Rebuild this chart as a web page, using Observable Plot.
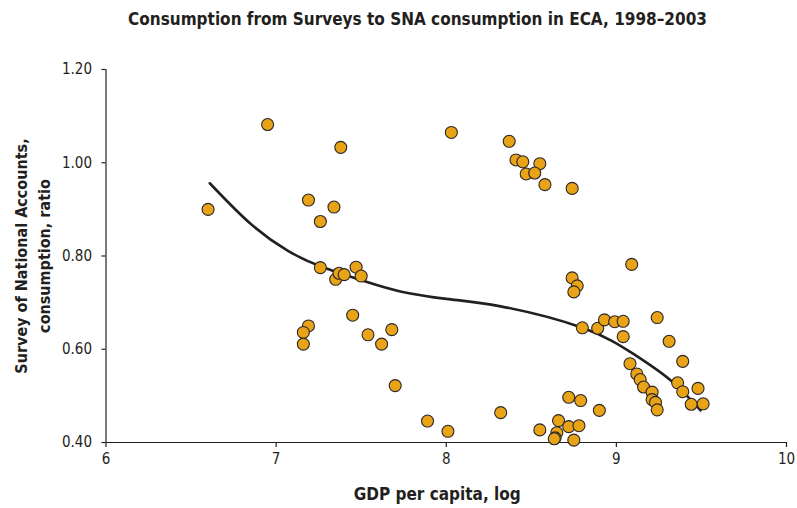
<!DOCTYPE html>
<html>
<head>
<meta charset="utf-8">
<script src="https://cdn.jsdelivr.net/npm/d3@7"></script>
<script src="https://cdn.jsdelivr.net/npm/@observablehq/plot@0.6"></script>
<style>
  html, body { margin: 0; padding: 0; background: #fff; }
  #chart { width: 797px; }
  #title {
    height: 36px; line-height: 38px; text-align: center;
    font-family: "Liberation Sans Narrow", "DejaVu Sans Condensed", sans-serif;
    font-weight: bold; font-size: 17px; color: #231f20;
    padding-left: 38px; box-sizing: border-box;
  }
  svg { display: block; }
</style>
</head>
<body>
<div id="chart">
  <div id="title">Consumption from Surveys to SNA consumption in ECA, 1998–2003</div>
</div>
<script>
// GDP per capita (log) for each country-year observation
const gdpLog = [
  6.60, 6.95, 7.38, 7.19, 7.34, 7.26, 7.26, 7.35, 7.37, 7.40, 7.47, 7.50,
  7.19, 7.16, 7.16, 7.45, 7.54, 7.62, 7.68, 7.70, 7.89, 8.01,
  8.03, 8.37, 8.41, 8.45, 8.55, 8.47, 8.52, 8.58, 8.74,
  9.09, 8.74, 8.77, 8.75,
  8.80, 8.89, 8.93, 8.99, 9.04, 9.04, 9.24, 9.31, 9.39,
  9.08, 9.12, 9.14, 9.16, 9.21, 9.21, 9.23, 9.24,
  9.36, 9.39, 9.48, 9.44, 9.51,
  8.32, 8.72, 8.79, 8.90, 8.55, 8.66, 8.72, 8.78, 8.65, 8.64, 8.635, 8.75
];
// Ratio of survey consumption to national accounts consumption
const ratio = [
  0.900, 1.082, 1.033, 0.920, 0.905, 0.874, 0.775, 0.750, 0.763, 0.760, 0.776, 0.757,
  0.650, 0.636, 0.611, 0.673, 0.631, 0.611, 0.642, 0.522, 0.446, 0.424,
  1.065, 1.046, 1.006, 1.002, 0.998, 0.976, 0.978, 0.953, 0.945,
  0.782, 0.753, 0.736, 0.723,
  0.646, 0.645, 0.663, 0.659, 0.660, 0.627, 0.668, 0.617, 0.574,
  0.569, 0.547, 0.535, 0.519, 0.508, 0.492, 0.486, 0.470,
  0.528, 0.509, 0.516, 0.482, 0.483,
  0.464, 0.497, 0.490, 0.469, 0.427, 0.447, 0.434, 0.436, 0.421, 0.410, 0.408, 0.405
];
// Fitted trend curve (GDP log, ratio)
const trendX = [6.61, 6.85, 7.065, 7.26, 7.535, 7.73, 8.0, 8.32, 8.80, 9.10, 9.32, 9.495];
const trendY = [0.956, 0.869, 0.812, 0.778, 0.744, 0.724, 0.708, 0.692, 0.646, 0.590, 0.533, 0.469];

const xTicks = [6, 7, 8, 9, 10];
const yTicks = [0.4, 0.6, 0.8, 1.0, 1.2];

const points = gdpLog.map((x, i) => ({x, y: ratio[i]}));
const trend = trendX.map((x, i) => ({x, y: trendY[i]}));

const font = `"Liberation Sans Narrow", "DejaVu Sans Condensed", sans-serif`;
const ink = "#231f20";

const chart = Plot.plot({
  width: 797,
  height: 472,
  marginLeft: 105.5,
  marginRight: 11,
  marginTop: 33,
  marginBottom: 66,
  style: {fontFamily: font, fontSize: "15px", color: ink, background: "#fff"},
  x: {domain: [6, 10]},
  y: {domain: [0.4, 1.2]},
  marks: [
    Plot.axisX({ticks: xTicks, tickSize: 5, tickPadding: 6, tickFormat: d3.format("d"),
      label: null, fontSize: 15, stroke: ink, fill: ink, strokeWidth: 1.2}),
    Plot.axisY({ticks: yTicks, tickSize: 4, tickPadding: 10, tickFormat: d3.format(".2f"),
      label: null, fontSize: 15, stroke: ink, fill: ink, strokeWidth: 1.2}),
    Plot.ruleX([6], {y1: 0.4, y2: 1.2, stroke: ink, strokeWidth: 1.2}),
    Plot.ruleY([0.4], {x1: 6, x2: 10, stroke: ink, strokeWidth: 1.2}),
    Plot.line(trend, {x: "x", y: "y", curve: "natural", stroke: ink, strokeWidth: 2.6}),
    Plot.dot(points, {x: "x", y: "y", r: 6, fill: "#e8a317", stroke: "#2b2626", strokeWidth: 1.1}),
    Plot.text(["GDP per capita, log"], {frameAnchor: "bottom", dy: 57, dx: -9,
      fontWeight: "bold", fontSize: 17, fill: ink}),
    Plot.text(["Survey of National Accounts,\nconsumption, ratio"], {frameAnchor: "left", dx: -75,
      rotate: -90, textAnchor: "middle", lineAnchor: "middle", lineHeight: 1.45,
      fontWeight: "bold", fontSize: 16, fill: ink})
  ]
});
document.getElementById("chart").appendChild(chart);
</script>
</body>
</html>
